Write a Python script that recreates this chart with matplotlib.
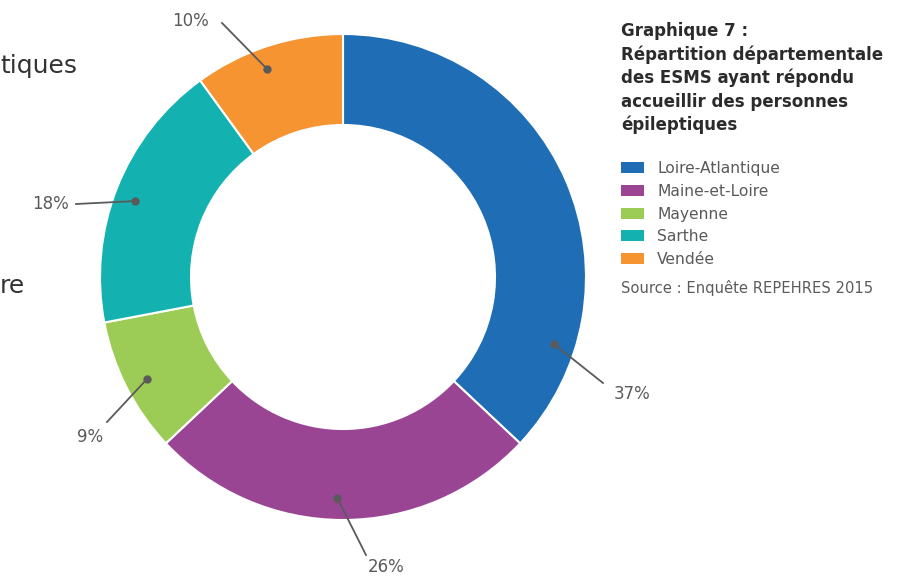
import numpy as np
import matplotlib
matplotlib.use("Agg")
import matplotlib.pyplot as plt
from matplotlib.patches import Rectangle

# donnees
departements = ["Loire-Atlantique", "Maine-et-Loire", "Mayenne", "Sarthe", "Vendée"]
parts = [37, 26, 9, 18, 10]
couleurs = ["#1f6db4", "#9a4594", "#9ccc55", "#13b1b0", "#f69432"]
titre = ["Graphique 7 :", "Répartition départementale", "des ESMS ayant répondu",
         "accueillir des personnes", "épileptiques"]
source = "Source : Enquête REPEHRES 2015"

W, H = 921, 577
CX, CY = 343, 277
R_OUT, R_IN = 243, 152
GRIS = "#5a5a5a"
FONT = "DejaVu Sans"

# placement des etiquettes (decalage d'angle, fin de ligne, texte) en pixels
decal_angle = [-41, -1.5, 0.5, 1.5, 2]
fin_ligne = [(603, 383), (366, 555), (107, 422), (76, 204), (222, 23)]
pos_texte = [(632, 399), (386, 572), (90, 442), (50, 209), (190, 26)]


def py(y):
    return H - y


fig = plt.figure(figsize=(W / 100, H / 100), dpi=100)
ax = fig.add_axes([0, 0, 1, 1])

wedges, _ = ax.pie(parts, colors=couleurs, startangle=90, counterclock=False,
                   center=(CX, py(CY)), radius=R_OUT,
                   wedgeprops=dict(width=R_OUT - R_IN, edgecolor="white", linewidth=1.5))
ax.set_xlim(0, W)
ax.set_ylim(0, H)
ax.set_aspect("equal")
ax.axis("off")

# etiquettes avec point et trait
for w, p, d, fl, pt in zip(wedges, parts, decal_angle, fin_ligne, pos_texte):
    ang = np.deg2rad((w.theta1 + w.theta2) / 2 + d)
    r = 221
    x0 = CX + r * np.cos(ang)
    y0 = py(CY) + r * np.sin(ang)
    ax.plot([x0, fl[0]], [y0, py(fl[1])], color=GRIS, lw=1.3)
    ax.plot(x0, y0, "o", color=GRIS, ms=5)
    ax.text(pt[0], py(pt[1]), f"{p}%", ha="center", va="baseline", color=GRIS,
            fontsize=12, family=FONT)

# titre
for i, ligne in enumerate(titre):
    ax.text(621, py(36.5 + i * 23.4), ligne, ha="left", va="baseline", fontsize=12,
            fontweight="bold", color="#2b2b2b", family=FONT)

# legende
leg_y = [167, 190, 213, 235, 258]
for nom, c, y in zip(departements, couleurs, leg_y):
    ax.add_patch(Rectangle((621, py(y) - 5.5), 23, 11, color=c, lw=0))
    ax.text(657, py(y + 5.7), nom, ha="left", va="baseline", fontsize=11.2, color=GRIS,
            family=FONT)

ax.text(621, py(293.3), source, ha="left", va="baseline", fontsize=10.6, color=GRIS,
        family=FONT)

# restes de texte coupes a gauche
ax.text(0, py(72.5), "tiques", ha="left", va="baseline", fontsize=18, color="#333333",
        family=FONT)
ax.text(0, py(292.7), "re", ha="left", va="baseline", fontsize=18, color="#333333",
        family=FONT)

fig.savefig("out.png", dpi=100)
